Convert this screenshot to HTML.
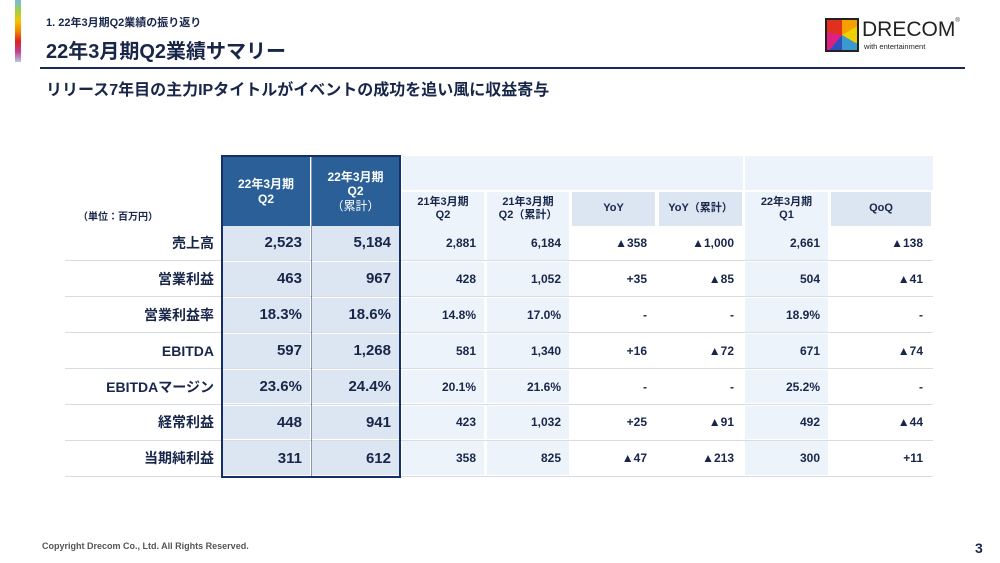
<!DOCTYPE html>
<html><head><meta charset="utf-8"><style>
body{margin:0;width:1000px;height:563px;background:#fff;position:relative;overflow:hidden;font-family:"Liberation Sans","Noto Sans CJK JP",sans-serif;color:#18264a}
.a{position:absolute}
.c{position:absolute;box-sizing:border-box;display:flex;align-items:center;font-weight:bold}
.r{justify-content:flex-end;padding-right:8px}
.m{justify-content:center;text-align:center;line-height:1.2}
</style></head><body>
<div class="a" style="left:15px;top:0;width:6px;height:62px;background:linear-gradient(#7ab8e0,#9bd04a,#f5c400,#f08a00,#e02020,#c04090,#b8c8e0)"></div>
<div class="a" style="left:46px;top:14px;font-size:11px;font-weight:bold">1. 22年3月期Q2業績の振り返り</div>
<div class="a" style="left:46px;top:35px;font-size:20px;font-weight:bold">22年3月期Q2業績サマリー</div>
<div class="a" style="left:40px;top:67px;width:925px;height:2px;background:#1b2a52"></div>
<div class="a" style="left:46px;top:76px;font-size:16px;font-weight:bold">リリース7年目の主力IPタイトルがイベントの成功を追い風に収益寄与</div>
<div class="a" style="left:825px;top:18px;width:34px;height:34px;border:2px solid #222;box-sizing:border-box;background:conic-gradient(#f5a000 0 60deg,#f0d000 60deg 120deg,#3a9ad0 120deg 180deg,#3050c0 180deg 220deg,#e02080 220deg 280deg,#e03020 280deg 360deg)"></div>
<div class="a" style="left:862px;top:18px;font-size:21px;color:#222;letter-spacing:0">DRECOM<span style="font-size:6px;vertical-align:top">®</span></div>
<div class="a" style="left:864px;top:42px;font-size:7.5px;color:#222">with entertainment</div>

<div id="tbl"></div>
<div class="a" style="left:78px;top:208px;font-size:10px;font-weight:bold">（単位：百万円）</div>
<div class="a" style="left:42px;top:541px;font-size:9px;font-weight:bold;color:#555">Copyright Drecom Co., Ltd. All Rights Reserved.</div>
<div class="a" style="left:975px;top:540px;font-size:14px;font-weight:bold">3</div>
<script>
const rowLabels=["売上高","営業利益","営業利益率","EBITDA","EBITDAマージン","経常利益","当期純利益"];
const q2=["2,523","463","18.3%","597","23.6%","448","311"];
const q2cum=["5,184","967","18.6%","1,268","24.4%","941","612"];
const prevQ2=["2,881","428","14.8%","581","20.1%","423","358"];
const prevQ2cum=["6,184","1,052","17.0%","1,340","21.6%","1,032","825"];
const yoy=["▲358","+35","-","+16","-","+25","▲47"];
const yoyCum=["▲1,000","▲85","-","▲72","-","▲91","▲213"];
const q1=["2,661","504","18.9%","671","25.2%","492","300"];
const qoq=["▲138","▲41","-","▲74","-","▲44","+11"];
const headers=["22年3月期<br>Q2","22年3月期<br>Q2<br><span style='font-weight:normal'>（累計）</span>","21年3月期<br>Q2","21年3月期<br>Q2（累計）","YoY","YoY（累計）","22年3月期<br>Q1","QoQ"];
const cols=[[222,90],[312,89],[402,84],[487,84],[572,85],[659,85],[745,85],[831,102]];
const data=[q2,q2cum,prevQ2,prevQ2cum,yoy,yoyCum,q1,qoq];
const bodyBg=["#dbe6f2","#dbe6f2","#edf3fa","#edf3fa","#fff","#fff","#edf3fa","#fff"];
const hdrBg=["#2a5f98","#2a5f98","#edf3fa","#edf3fa","#dbe6f2","#dbe6f2","#edf3fa","#dbe6f2"];
const T=document.getElementById('tbl');
function add(html,css,name){const d=document.createElement('div');d.className=css.cls;d.style.cssText=css.s;d.innerHTML='<div>'+html+'</div>';


T.appendChild(d);return d;}
const top0=226,rh=35.9;
add('',{cls:'a',s:'left:402px;top:156px;width:341px;height:34px;background:#edf3fa'},'header-band-yoy');
add('',{cls:'a',s:'left:745px;top:156px;width:188px;height:34px;background:#edf3fa'},'header-band-qoq');
cols.forEach((c,j)=>{
  const hl=j<2;
  add(headers[j],{cls:'c m',s:`left:${c[0]}px;top:${hl?157:192}px;width:${c[1]-2}px;height:${hl?69:34}px;background:${hdrBg[j]};color:${hl?'#fff':'#18264a'};font-size:${hl?12:11}px`},'column-header');
  data[j].forEach((v,i)=>{
    add(v,{cls:'c r',s:`left:${c[0]}px;top:${top0+i*rh}px;width:${c[1]-2}px;height:${rh-2}px;background:${bodyBg[j]};font-size:${hl?15:12}px`},'cell-'+j+'-'+i);
  });
});
rowLabels.forEach((l,i)=>{
  add(l,{cls:'c r',s:`left:65px;top:${top0+i*rh}px;width:157px;height:${rh-2}px;font-size:14px;padding-right:8px`},'row-label');
  add('',{cls:'a',s:`left:65px;top:${top0+(i+1)*rh-1.5}px;width:868px;height:1px;background:#d8dde5`},'row-divider');
});
add('',{cls:'a',s:'left:221px;top:155px;width:180px;height:323px;border:2.5px solid #14306a;box-sizing:border-box'},'highlight-frame');
add('',{cls:'a',s:'left:311px;top:157px;width:1px;height:320px;background:#14306a;opacity:.5'},'highlight-divider');
</script>
</body></html>
